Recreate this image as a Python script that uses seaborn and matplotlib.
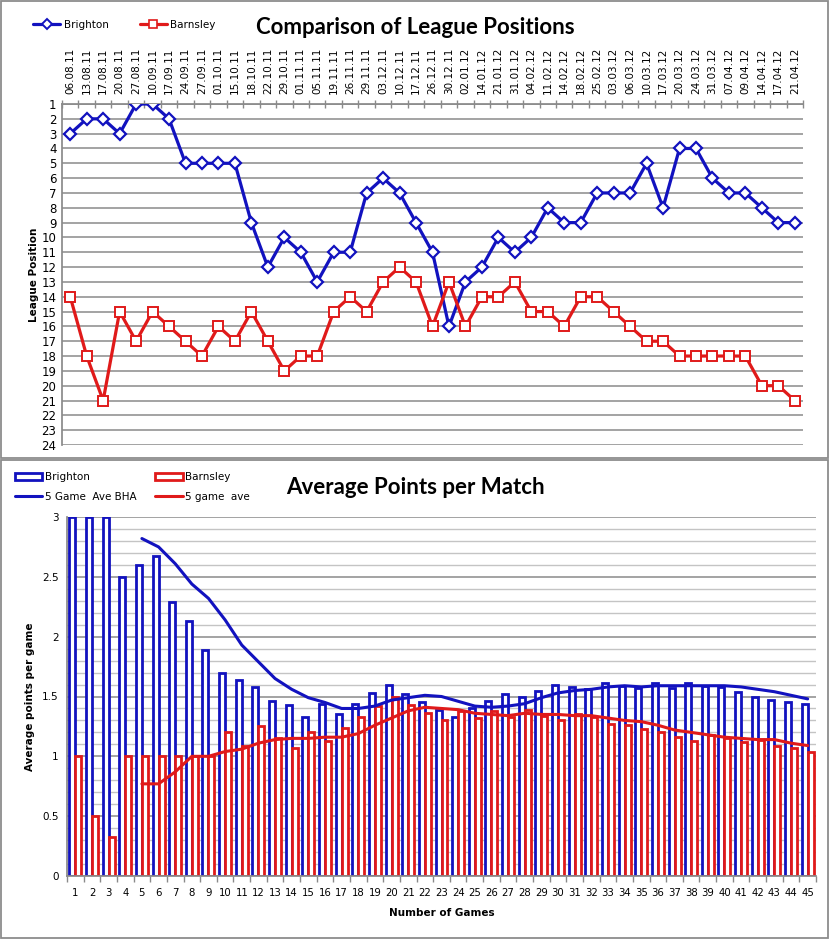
"""
Brighton vs Barnsley 2011/12: league positions and points per game
"""

import numpy as np
import pandas as pd
import matplotlib
matplotlib.use("Agg")
import matplotlib.pyplot as plt
from matplotlib.patches import Rectangle, Patch
from matplotlib.lines import Line2D
import seaborn as sns

dates = ["06.08.11", "13.08.11", "17.08.11", "20.08.11", "27.08.11", "10.09.11",
         "17.09.11", "24.09.11", "27.09.11", "01.10.11", "15.10.11", "18.10.11",
         "22.10.11", "29.10.11", "01.11.11", "05.11.11", "19.11.11", "26.11.11",
         "29.11.11", "03.12.11", "10.12.11", "17.12.11", "26.12.11", "30.12.11",
         "02.01.12", "14.01.12", "21.01.12", "31.01.12", "04.02.12", "11.02.12",
         "14.02.12", "18.02.12", "25.02.12", "03.03.12", "06.03.12", "10.03.12",
         "17.03.12", "20.03.12", "24.03.12", "31.03.12", "07.04.12", "09.04.12",
         "14.04.12", "17.04.12", "21.04.12"]

brighton_pos = [3, 2, 2, 3, 1, 1, 2, 5, 5, 5, 5, 9, 12, 10, 11, 13, 11, 11, 7, 6, 7, 9,
                11, 16, 13, 12, 10, 11, 10, 8, 9, 9, 7, 7, 7, 5, 8, 4, 4, 6, 7, 7, 8, 9, 9]
barnsley_pos = [14, 18, 21, 15, 17, 15, 16, 17, 18, 16, 17, 15, 17, 19, 18, 18, 15, 14, 15,
                13, 12, 13, 16, 13, 16, 14, 14, 13, 15, 15, 16, 14, 14, 15, 16, 17, 17, 18,
                18, 18, 18, 18, 20, 20, 21]

games = list(range(1, 46))
brighton_ppg = [3, 3, 3, 2.5, 2.6, 2.67, 2.29, 2.13, 1.89, 1.7, 1.64, 1.58, 1.46, 1.43,
                1.33, 1.44, 1.35, 1.44, 1.53, 1.6, 1.52, 1.45, 1.39, 1.33, 1.4, 1.46, 1.52,
                1.5, 1.55, 1.6, 1.58, 1.56, 1.61, 1.59, 1.57, 1.61, 1.57, 1.61, 1.59, 1.58,
                1.54, 1.5, 1.47, 1.45, 1.44]
barnsley_ppg = [1.0, 0.5, 0.33, 1.0, 1.0, 1.0, 1.0, 1.0, 1.0, 1.2, 1.09, 1.25, 1.15, 1.07,
                1.2, 1.13, 1.24, 1.33, 1.42, 1.5, 1.43, 1.36, 1.3, 1.38, 1.32, 1.38, 1.33,
                1.39, 1.34, 1.3, 1.35, 1.33, 1.27, 1.26, 1.23, 1.2, 1.16, 1.13, 1.18, 1.15,
                1.12, 1.14, 1.09, 1.07, 1.04]

ma_games = list(range(5, 46))
brighton_ma = [2.82, 2.75, 2.61, 2.44, 2.32, 2.14, 1.93, 1.79, 1.65, 1.56, 1.49, 1.45,
               1.40, 1.40, 1.42, 1.47, 1.49, 1.51, 1.50, 1.46, 1.42, 1.41, 1.42, 1.44,
               1.49, 1.53, 1.55, 1.56, 1.58, 1.59, 1.58, 1.59, 1.59, 1.59, 1.59, 1.59,
               1.58, 1.56, 1.54, 1.51, 1.48]
barnsley_ma = [0.77, 0.77, 0.87, 1.0, 1.0, 1.04, 1.06, 1.11, 1.14, 1.15, 1.15, 1.16,
               1.16, 1.19, 1.26, 1.32, 1.38, 1.41, 1.40, 1.39, 1.36, 1.35, 1.34, 1.36,
               1.35, 1.35, 1.34, 1.34, 1.32, 1.30, 1.29, 1.26, 1.22, 1.20, 1.18, 1.16,
               1.15, 1.14, 1.14, 1.11, 1.09]

BLUE = "#1212bf"
RED = "#e01a1a"
GRID = "#8a8a8a"
LIGHT = "#c4c4c4"

sns.set_theme(style="white")
plt.rcParams['font.family'] = ['DejaVu Sans']
plt.rcParams.update({"text.color": "black", "axes.labelcolor": "black",
                     "xtick.labelcolor": "black", "ytick.labelcolor": "black"})

W, H = 832, 939
fig = plt.figure(figsize=(W / 100, H / 100), dpi=100)


def box(x0, y0, x1, y1):   # pixel box measured from the top-left corner
    return [x0 / W, 1 - y1 / H, (x1 - x0) / W, (y1 - y0) / H]


# panel frames
for y0, y1 in [(1, 458), (460, 938)]:
    fig.patches.append(Rectangle((1 / W, 1 - y1 / H), 827 / W, (y1 - y0) / H,
                                 transform=fig.transFigure, fill=False,
                                 edgecolor="#8c8c8c", lw=1.3))

# ---------------- top: league positions ----------------
ax1 = fig.add_axes(box(62, 104, 803, 445))
pos = pd.DataFrame({"idx": range(len(dates)), "Brighton": brighton_pos,
                    "Barnsley": barnsley_pos})
sns.lineplot(data=pos, x="idx", y="Brighton", ax=ax1, color=BLUE, lw=2.3,
             marker="D", markersize=6.3, markerfacecolor="white",
             markeredgecolor=BLUE, markeredgewidth=1.6, zorder=3)
sns.lineplot(data=pos, x="idx", y="Barnsley", ax=ax1, color=RED, lw=2.3,
             marker="s", markersize=6.5, markerfacecolor="white",
             markeredgecolor=RED, markeredgewidth=1.4, zorder=3)
ax1.set_xlim(-0.5, len(dates) - 0.5)
ax1.set_ylim(24, 1)
ax1.set_yticks(range(1, 25))
ax1.tick_params(axis="y", length=0, pad=4, labelsize=8.5)
ax1.xaxis.tick_top()
ax1.set_xticks(range(len(dates)))
ax1.set_xticklabels(dates, rotation=90, fontsize=7.5)
ax1.set_xticks(np.arange(-0.5, len(dates)), minor=True)
ax1.tick_params(axis="x", which="major", length=0, pad=7)
ax1.tick_params(axis="x", which="minor", length=6, direction="inout",
                color=GRID, width=1, top=True)
ax1.grid(axis="y", color=GRID, lw=1.1)
for s in ["right", "bottom"]:
    ax1.spines[s].set_visible(False)
ax1.spines["top"].set_color(GRID)
ax1.spines["left"].set_color(GRID)
ax1.set_xlabel("")
ax1.set_ylabel("League Position", fontsize=7.5, fontweight="bold", labelpad=2)

h1 = [Line2D([], [], color=BLUE, lw=2.3, marker="D", markersize=5,
             markerfacecolor="white", markeredgecolor=BLUE, markeredgewidth=1.4),
      Line2D([], [], color=RED, lw=2.3, marker="s", markersize=5.5,
             markerfacecolor="white", markeredgecolor=RED, markeredgewidth=1.2)]
fig.legend(h1, ["Brighton", "Barnsley"], loc="center left",
           bbox_to_anchor=(24 / W, 1 - 25 / H), ncol=2, frameon=False,
           fontsize=7.5, handlelength=2.6, handletextpad=0.3, columnspacing=3.0)
fig.text(415 / W, 1 - 27 / H, "Comparison of League Positions", ha="center",
         va="center", fontsize=16, fontweight="bold", family="Lato")

# ---------------- bottom: average points per match ----------------
ax2 = fig.add_axes(box(67, 517, 816, 876))
ppg = pd.DataFrame({"game": games * 2,
                    "ppg": brighton_ppg + barnsley_ppg,
                    "team": ["Brighton"] * len(games) + ["Barnsley"] * len(games)})
sns.barplot(data=ppg, x="game", y="ppg", hue="team",
            palette={"Brighton": BLUE, "Barnsley": RED}, fill=False, width=0.72,
            gap=0, linewidth=2, legend=False, ax=ax2, zorder=2)
for p in ax2.patches:
    p.set_facecolor("white")

ma = pd.DataFrame({"idx": np.array(ma_games) - 1, "bha": brighton_ma,
                   "bar": barnsley_ma})
sns.lineplot(data=ma, x="idx", y="bha", ax=ax2, color=BLUE, lw=2.2, zorder=4)
sns.lineplot(data=ma, x="idx", y="bar", ax=ax2, color=RED, lw=2.2, zorder=4)

ax2.set_xlim(-0.5, len(games) - 0.5)
ax2.set_ylim(0, 3)
ax2.set_yticks(np.arange(0, 3.01, 0.5))
ax2.set_yticklabels(["0", "0.5", "1", "1.5", "2", "2.5", "3"])
ax2.set_yticks(np.arange(0, 3.01, 0.1), minor=True)
ax2.grid(axis="y", which="minor", color=LIGHT, lw=1)
ax2.grid(axis="y", which="major", color=GRID, lw=1.1)
ax2.set_axisbelow(True)
ax2.tick_params(axis="y", which="both", length=0, pad=6, labelsize=7.5)
ax2.set_xticks(range(len(games)))
ax2.set_xticklabels([str(g) for g in games], fontsize=7.3)
ax2.set_xticks(np.arange(-0.5, len(games)), minor=True)
ax2.tick_params(axis="x", which="major", length=0, pad=9)
ax2.tick_params(axis="x", which="minor", length=4, color=GRID, width=1,
                bottom=True)
for s in ["right", "top"]:
    ax2.spines[s].set_visible(False)
ax2.spines["bottom"].set_color(GRID)
ax2.spines["left"].set_color(GRID)
ax2.set_xlabel("Number of Games", fontsize=7.5, fontweight="bold", labelpad=7)
ax2.set_ylabel("Average points per game", fontsize=7.5, fontweight="bold",
               labelpad=5)

h2 = [Patch(facecolor="white", edgecolor=BLUE, lw=2),
      Line2D([], [], color=BLUE, lw=2.2),
      Patch(facecolor="white", edgecolor=RED, lw=2),
      Line2D([], [], color=RED, lw=2.2)]
fig.legend(h2, ["Brighton", "5 Game  Ave BHA", "Barnsley", "5 game  ave"],
           loc="upper left", bbox_to_anchor=(6 / W, 1 - 463 / H), ncol=2,
           frameon=False, fontsize=7.5, handlelength=2.6, handleheight=0.6,
           handletextpad=0.2, columnspacing=1.85, labelspacing=0.9)
fig.text(415 / W, 1 - 487 / H, "Average Points per Match", ha="center",
         va="center", fontsize=16, fontweight="bold", family="Lato")

fig.savefig("out.png", dpi=100, facecolor="white")
